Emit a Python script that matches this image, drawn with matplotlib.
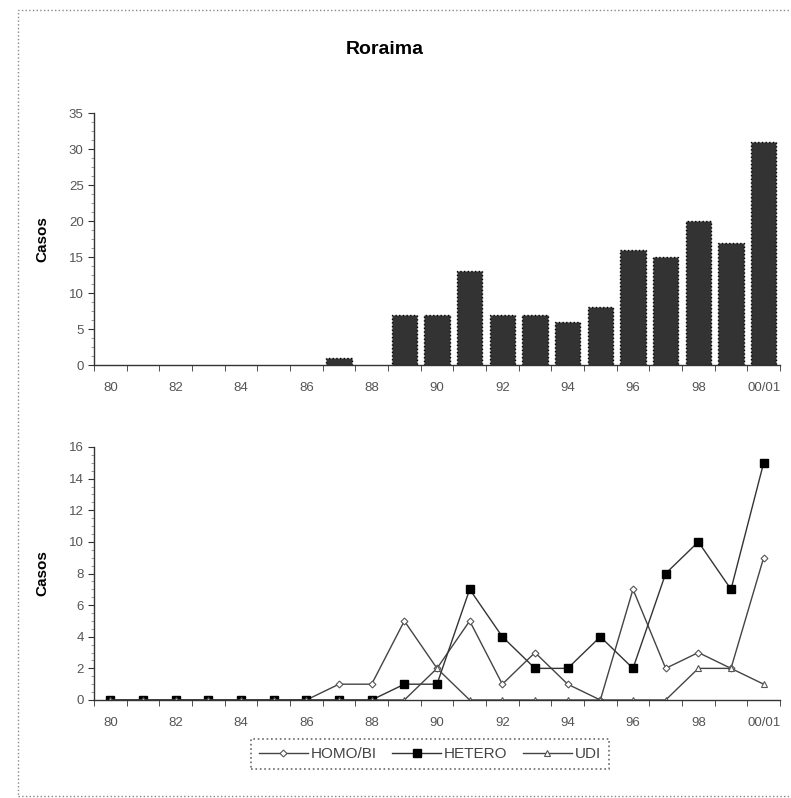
import numpy as np
import matplotlib
matplotlib.use('Agg')
import matplotlib.pyplot as plt
from matplotlib.patches import Rectangle
from matplotlib.ticker import MultipleLocator

plt.rcParams['font.family'] = ['Liberation Sans', 'DejaVu Sans']

# data
anos = ['80', '81', '82', '83', '84', '85', '86', '87', '88', '89',
        '90', '91', '92', '93', '94', '95', '96', '97', '98', '99', '00/01']
casos = [0, 0, 0, 0, 0, 0, 0, 1, 0, 7, 7, 13, 7, 7, 6, 8, 16, 15, 20, 17, 31]
homo_bi = [0, 0, 0, 0, 0, 0, 0, 1, 1, 5, 2, 5, 1, 3, 1, 0, 7, 2, 3, 2, 9]
hetero = [0, 0, 0, 0, 0, 0, 0, 0, 0, 1, 1, 7, 4, 2, 2, 4, 2, 8, 10, 7, 15]
udi = [0, 0, 0, 0, 0, 0, 0, 0, 0, 0, 2, 0, 0, 0, 0, 0, 0, 0, 2, 2, 1]

x = np.arange(len(anos))
lbl = [a if i % 2 == 0 else '' for i, a in enumerate(anos)]
tick_col = '#555555'

fig = plt.figure(figsize=(7.91, 7.98), dpi=100)

# dotted frame around the whole picture
fig.patches.append(Rectangle((18/791, 2/798), 1.0, 1 - 12/798, transform=fig.transFigure,
                             fill=False, ls=':', lw=1.0, ec='#888888'))

fig.text(385/791, 1 - 50/798, 'Roraima', ha='center', va='center',
         fontsize=14, fontweight='bold')


def style_axis(ax, ymax, ystep):
    for s in ['top', 'right']:
        ax.spines[s].set_visible(False)
    for s in ['left', 'bottom']:
        ax.spines[s].set_color('#333333')
        ax.spines[s].set_linewidth(1.0)
    ax.set_xlim(-0.5, len(anos) - 0.5)
    ax.set_ylim(0, ymax)
    ax.yaxis.set_major_locator(MultipleLocator(ystep))
    ax.yaxis.set_minor_locator(MultipleLocator(ystep / 4))
    ax.set_xticks(x)
    ax.set_xticklabels(lbl)
    ax.set_xticks(np.arange(len(anos) + 1) - 0.5, minor=True)
    ax.tick_params(axis='x', which='major', length=0, pad=12, labelsize=9.5, labelcolor=tick_col)
    ax.tick_params(axis='x', which='minor', length=4, color='#333333')
    ax.tick_params(axis='y', which='major', length=4, labelsize=9.5, labelcolor=tick_col, color='#333333')
    ax.tick_params(axis='y', which='minor', length=2, color='#888888')
    ax.set_ylabel('Casos', fontsize=11, fontweight='bold')


# top: bars (no outline for empty years)
ax1 = fig.add_axes([94/791, 1 - 365/798, (780 - 94)/791, (365 - 113)/798])
ecs = ['black' if c > 0 else 'none' for c in casos]
ax1.bar(x, casos, width=0.77, color='#333333', edgecolor=ecs, linestyle=':', linewidth=1.0)
style_axis(ax1, 35, 5)

# bottom: lines by category
ax2 = fig.add_axes([94/791, 1 - 700/798, (780 - 94)/791, (700 - 447)/798])
ax2.plot(x, homo_bi, color='#444444', lw=1.0, marker='D', ms=3.5,
         mfc='white', mec='#555555', mew=0.8, label='HOMO/BI')
ax2.plot(x, hetero, color='#333333', lw=1.0, marker='s', ms=6,
         mfc='black', mec='black', label='HETERO')
ax2.plot(x, udi, color='#444444', lw=1.0, marker='^', ms=5,
         mfc='white', mec='#555555', mew=0.8, label='UDI')
style_axis(ax2, 16, 2)
for a in [ax1, ax2]:
    a.yaxis.set_label_coords(-0.065, 0.5)

leg = fig.legend(loc='center', bbox_to_anchor=(430/791, 1 - 754/798), ncol=3,
                 fontsize=11, frameon=True, fancybox=False, handlelength=3.2,
                 columnspacing=1.0, handletextpad=0.2, borderpad=0.5)
leg.get_frame().set_edgecolor('#444444')
leg.get_frame().set_linestyle(':')
leg.get_frame().set_linewidth(1.2)
for t in leg.get_texts():
    t.set_color('#444444')

plt.savefig('out.png', dpi=100)
